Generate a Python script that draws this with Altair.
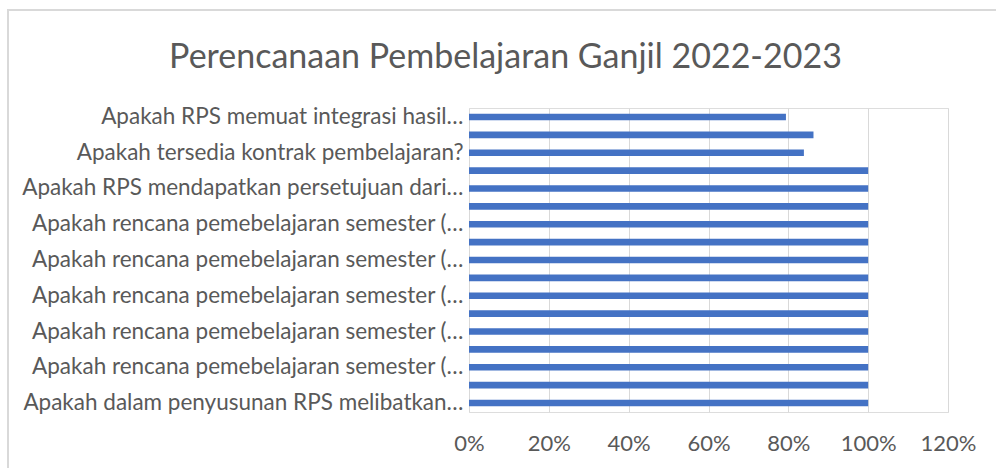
import json
import altair as alt
import pandas as pd

# Categories top to bottom (hidden labels are skipped by the chart, as in the reference)
labels = [
    "Apakah RPS memuat integrasi hasil…",
    "",
    "Apakah tersedia kontrak pembelajaran?",
    "",
    "Apakah RPS mendapatkan persetujuan dari…",
    "",
    "Apakah rencana pemebelajaran semester (…",
    "",
    "Apakah rencana pemebelajaran semester (…",
    "",
    "Apakah rencana pemebelajaran semester (…",
    "",
    "Apakah rencana pemebelajaran semester (…",
    "",
    "Apakah rencana pemebelajaran semester (…",
    "",
    "Apakah dalam penyusunan RPS melibatkan…",
]
values = [0.794, 0.863, 0.839, 1.0, 1.0, 1.0, 1.0, 1.0, 1.0,
          1.0, 1.0, 1.0, 1.0, 1.0, 1.0, 1.0, 1.0]
x_ticks = [0, 0.2, 0.4, 0.6, 0.8, 1.0, 1.2]

df = pd.DataFrame({"no": list(range(1, len(values) + 1)), "value": values})

FONT = "Lato"
GREY = "#595959"
label_expr = json.dumps(labels, ensure_ascii=False) + "[datum.value - 1]"

bars = alt.Chart(df).mark_bar(color="#4472C4").encode(
    x=alt.X("value:Q",
            scale=alt.Scale(domain=[0, 1.2], nice=False),
            axis=alt.Axis(values=x_ticks, format=".0%", title=None,
                          domain=False, ticks=False, grid=True,
                          gridColor="#D9D9D9", gridWidth=1,
                          labelFont=FONT, labelFontSize=22, labelColor=GREY,
                          labelPadding=21, labelOverlap=False,
                          labelFlush=False, labelAlign="center")),
    y=alt.Y("no:O",
            scale=alt.Scale(paddingInner=0.63, paddingOuter=0.315),
            axis=alt.Axis(title=None, labelExpr=label_expr, domain=False,
                          ticks=False, labelFont=FONT, labelFontSize=22.5,
                          labelColor=GREY, labelPadding=6, labelLimit=500)),
)

frame = alt.Chart(df).mark_rect(fill=None, stroke="#D9D9D9", strokeWidth=1.5).encode(
    x=alt.value(-461), x2=alt.value(540), y=alt.value(-98), y2=alt.value(370)
)

chart = alt.layer(frame, bars).properties(
    width=479, height=304,
    title=alt.Title("Perencanaan Pembelajaran Ganjil 2022-2023",
                    font=FONT, fontSize=34, fontWeight="normal", color=GREY,
                    anchor="middle", baseline="alphabetic", offset=-93, dx=-203),
    padding={"left": 469, "top": 108, "right": 48, "bottom": 56},
    autosize=alt.AutoSizeParams(type="none"),
).configure_view(stroke=None).configure(background="white")

chart.save("out.html", embed_options={"renderer": "svg", "actions": False})
